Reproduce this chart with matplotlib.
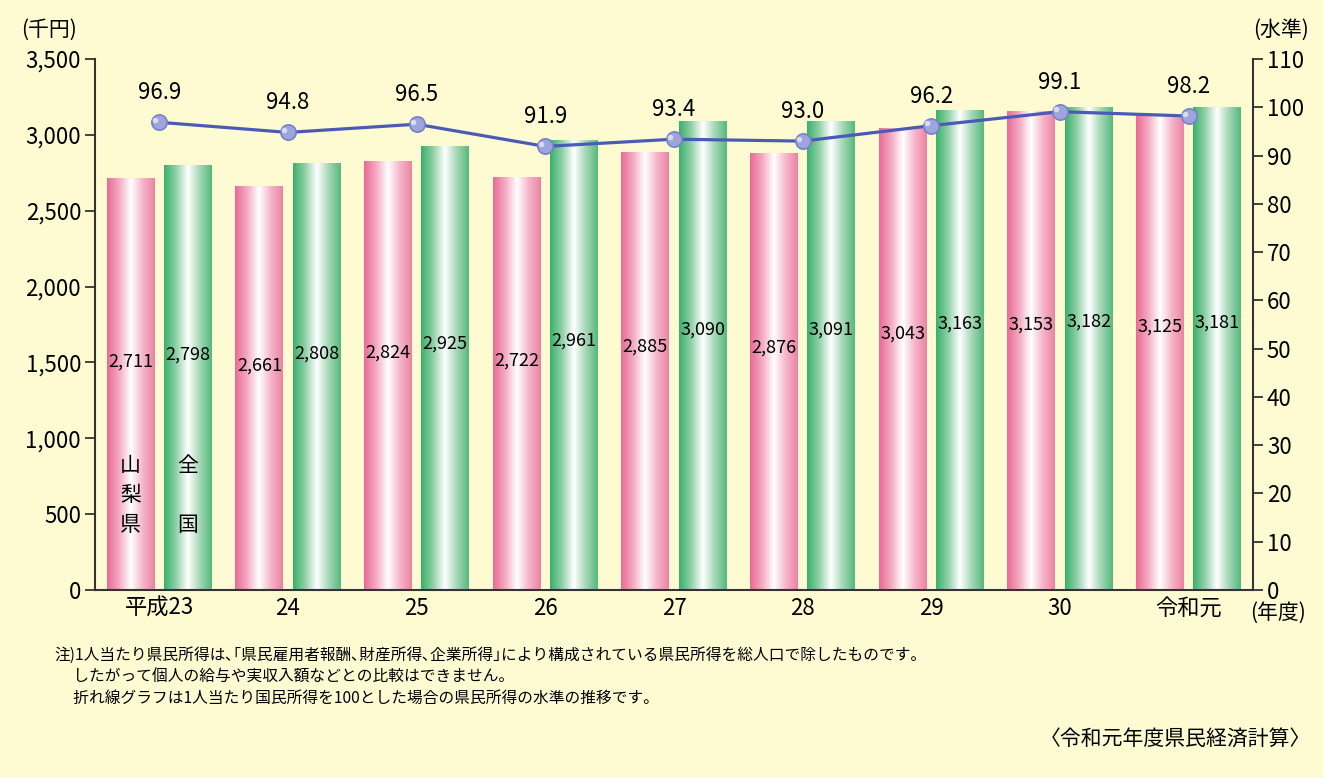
import numpy as np
import matplotlib.pyplot as plt
from matplotlib.colors import LinearSegmentedColormap

plt.rcParams['font.family'] = ['Noto Sans CJK JP', 'DejaVu Sans']

years = ['平成23', '24', '25', '26', '27', '28', '29', '30', '令和元']
yamanashi = [2711, 2661, 2824, 2722, 2885, 2876, 3043, 3153, 3125]
national = [2798, 2808, 2925, 2961, 3090, 3091, 3163, 3182, 3181]
level = [96.9, 94.8, 96.5, 91.9, 93.4, 93.0, 96.2, 99.1, 98.2]

notes = [
    '注)1人当たり県民所得は､｢県民雇用者報酬､財産所得､企業所得｣により構成されている県民所得を総人口で除したものです。',
    '　 したがって個人の給与や実収入額などとの比較はできません。',
    '　 折れ線グラフは1人当たり国民所得を100とした場合の県民所得の水準の推移です。',
]
source = '〈令和元年度県民経済計算〉'

bg = '#FEFBD3'
pink_cmap = LinearSegmentedColormap.from_list(
    'pink', ['#E96A95', '#F4A9C2', '#FFFFFF', '#F5B5CA', '#EC82A4'])
green_cmap = LinearSegmentedColormap.from_list(
    'green', ['#38B06B', '#8FD0A6', '#FFFFFF', '#A3D7B5', '#55B97C'])

fig = plt.figure(figsize=(13.23, 7.78), dpi=100, facecolor=bg)
ax = fig.add_axes([0.0718, 0.2416, 0.8753, 0.6825])
ax.set_facecolor(bg)

x = np.arange(len(years))
width = 0.373
offset = 0.222
grad = np.linspace(0, 1, 256).reshape(1, -1)


def gradient_bar(ax, xc, h, cmap):
    ax.imshow(grad, cmap=cmap, extent=[xc - width / 2, xc + width / 2, 0, h],
              aspect='auto', origin='lower', zorder=2, interpolation='bilinear')


for i in range(len(years)):
    gradient_bar(ax, x[i] - offset, yamanashi[i], pink_cmap)
    gradient_bar(ax, x[i] + offset, national[i], green_cmap)
    ax.text(x[i] - offset, yamanashi[i] * 0.555, f'{yamanashi[i]:,}',
            ha='center', va='center', fontsize=13, zorder=4)
    ax.text(x[i] + offset, national[i] * 0.555, f'{national[i]:,}',
            ha='center', va='center', fontsize=13, zorder=4)

# series names written down the first pair of bars
for k, ch in enumerate('山梨県'):
    ax.text(x[0] - offset, 820 - k * 195, ch, ha='center', va='center',
            fontsize=15, zorder=4)
for k, ch in enumerate('全国'):
    ax.text(x[0] + offset, 820 - k * 390, ch, ha='center', va='center',
            fontsize=15, zorder=4)

ax.set_xlim(-0.5, len(years) - 0.5)
ax.set_ylim(0, 3500)
ax.set_yticks(np.arange(0, 3501, 500))
ax.set_yticklabels([f'{v:,}' for v in range(0, 3501, 500)])
ax.set_xticks(x)
ax.set_xticklabels(years)
ax.tick_params(axis='x', length=0, labelsize=16, pad=5)
ax.tick_params(axis='y', direction='out', length=7, width=1.3,
               color='#333333', labelsize=16, pad=3)

for side in ['top', 'right']:
    ax.spines[side].set_visible(False)
for side in ['left', 'bottom']:
    ax.spines[side].set_linewidth(1.5)
    ax.spines[side].set_color('#333333')

ax2 = ax.twinx()
ax2.set_ylim(0, 110)
ax2.set_yticks(np.arange(0, 111, 10))
ax2.tick_params(axis='y', direction='out', length=7, width=1.3,
                color='#333333', labelsize=16, pad=3)
for side in ['top', 'left', 'bottom']:
    ax2.spines[side].set_visible(False)
ax2.spines['right'].set_linewidth(1.5)
ax2.spines['right'].set_color('#333333')

ax2.plot(x, level, color='#4B5BB5', lw=2.3, zorder=5)
ax2.plot(x, level, 'o', ms=11, mfc='#9EA5DC', mec='#7780C8', mew=1.2, zorder=6)
ax2.plot(x - 0.03, np.array(level) + 0.5, 'o', ms=4, mfc='#D8DBF3',
         mec='none', zorder=7)
for xi, v in zip(x, level):
    ax2.annotate(f'{v:.1f}', (xi, v), xytext=(0, 13), textcoords='offset points',
                 ha='center', va='bottom', fontsize=16)

fig.text(0.016, 0.962, '(千円)', fontsize=15, ha='left', va='center')
fig.text(0.947, 0.962, '(水準)', fontsize=15, ha='left', va='center')
fig.text(0.945, 0.212, '(年度)', fontsize=15, ha='left', va='center')

for k, line in enumerate(notes):
    fig.text(0.041, 0.158 - k * 0.028, line, fontsize=11.3, ha='left', va='center')
fig.text(0.991, 0.050, source, fontsize=15, ha='right', va='center')

fig.savefig('out.png', dpi=100, facecolor=bg)
